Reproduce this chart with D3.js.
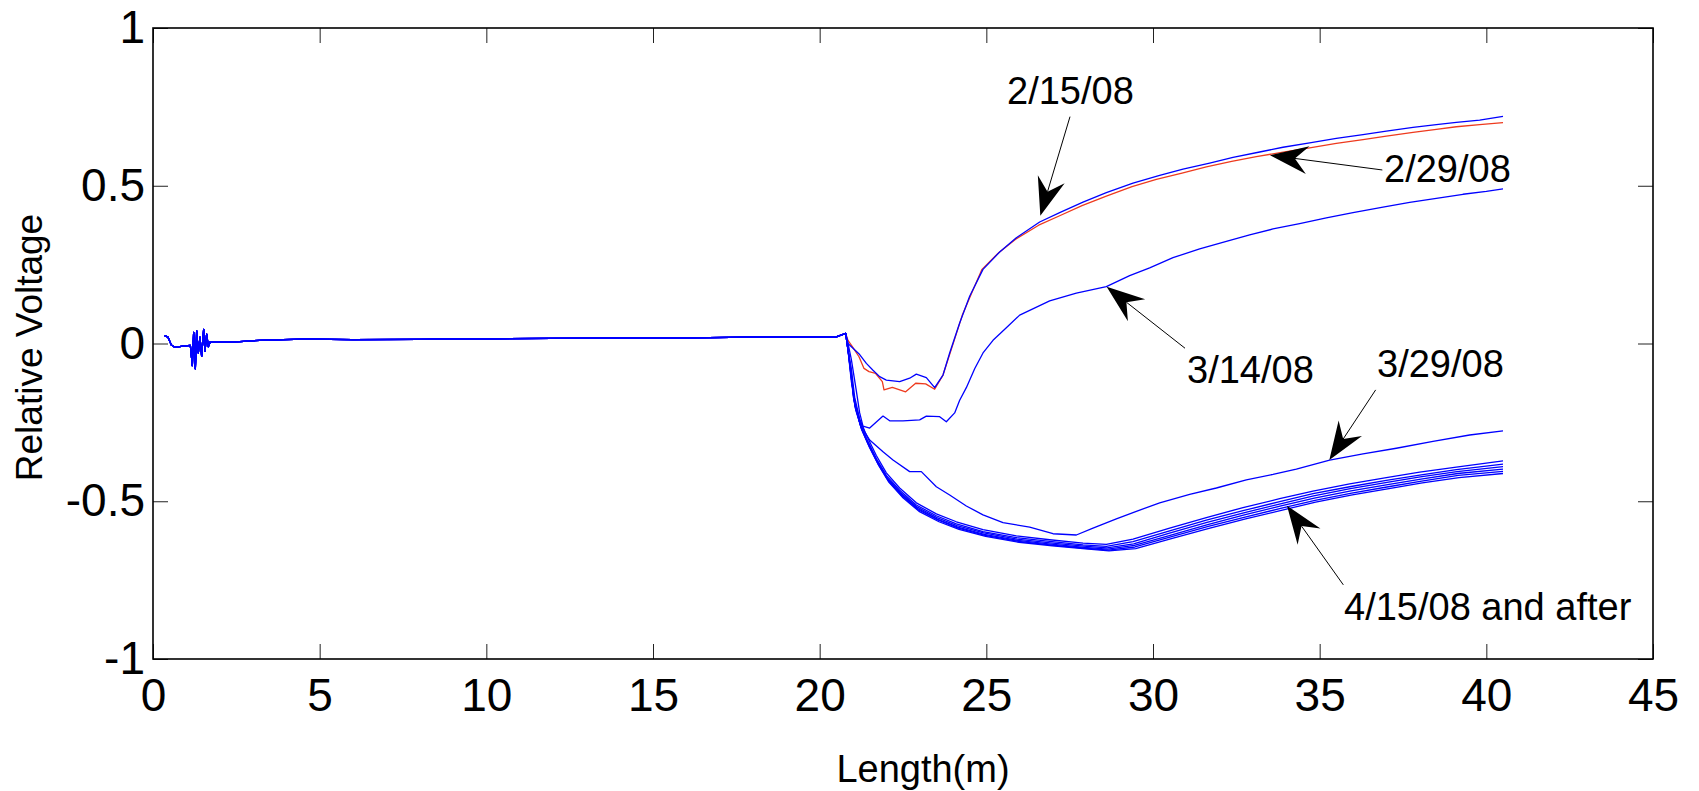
<!DOCTYPE html>
<html>
<head>
<meta charset="utf-8">
<script src="https://cdn.jsdelivr.net/npm/d3@7"></script>
<style>
  body { margin: 0; background: #fff; }
  svg { display: block; }
  text { font-family: Arial, "Liberation Sans", Helvetica, sans-serif; fill: #000; }
</style>
</head>
<body>
<svg id="chart" width="1699" height="791"></svg>
<script>
// ---- axis ticks ----
const xTicks = [0, 5, 10, 15, 20, 25, 30, 35, 40, 45];
const yTicks = [-1, -0.5, 0, 0.5, 1];
const yTickLabels = ["-1", "-0.5", "0", "0.5", "1"];
const xLabel = "Length(m)";
const yLabel = "Relative Voltage";

// ---- shared flat section of every trace (cable start up to the splice) ----
const baseLength = [0.35, 0.45, 0.55, 0.65, 0.9, 1.12, 1.18, 1.22, 1.27, 1.31, 1.36, 1.41, 1.46, 1.52, 1.56, 1.61, 1.66, 1.72, 2.0, 2.6, 3.2, 3.9, 4.6, 6, 8, 10, 12, 14, 16, 18, 20, 20.5, 20.78];
const baseVoltage = [0.025, 0.02, -0.005, -0.012, -0.008, -0.006, -0.07, 0.035, -0.08, 0.04, -0.03, 0.02, -0.04, 0.045, -0.025, 0.03, -0.01, 0.006, 0.004, 0.006, 0.01, 0.012, 0.014, 0.012, 0.013, 0.015, 0.016, 0.017, 0.018, 0.02, 0.022, 0.021, 0.032];

// ---- per-date traces after the splice: [length (m), relative voltage] ----
const trace0215 = [[20.85,0.0],[21.0,-0.015],[21.2,-0.035],[21.4,-0.063],[21.6,-0.085],[21.8,-0.105],[22.0,-0.116],[22.4,-0.121],[22.7,-0.11],[22.9,-0.097],[23.2,-0.108],[23.45,-0.14],[23.7,-0.1],[23.9,-0.03],[24.2,0.065],[24.5,0.15],[24.9,0.235],[25.4,0.29],[25.9,0.335],[26.6,0.385],[27.2,0.415],[27.9,0.448],[28.6,0.478],[29.4,0.508],[30.2,0.533],[30.9,0.553],[31.7,0.572],[32.4,0.59],[33.2,0.607],[33.9,0.622],[34.7,0.636],[35.5,0.65],[36.3,0.662],[37.0,0.673],[37.8,0.685],[38.5,0.694],[39.1,0.701],[39.8,0.708],[40.5,0.72]];
const trace0229 = [[20.85,0.01],[20.98,-0.01],[21.18,-0.042],[21.33,-0.079],[21.48,-0.089],[21.68,-0.095],[21.88,-0.121],[21.93,-0.147],[22.18,-0.139],[22.58,-0.153],[22.88,-0.126],[23.18,-0.128],[23.45,-0.145],[23.7,-0.1],[23.93,-0.025],[24.28,0.09],[24.58,0.165],[24.87,0.235],[25.37,0.288],[25.87,0.33],[26.57,0.375],[27.2,0.405],[27.87,0.437],[28.6,0.467],[29.37,0.497],[30.1,0.52],[30.87,0.54],[31.6,0.56],[32.36,0.577],[33.1,0.592],[33.86,0.606],[34.7,0.62],[35.5,0.634],[36.3,0.646],[37.0,0.657],[37.8,0.669],[38.5,0.679],[39.1,0.687],[39.8,0.694],[40.5,0.70]];
const trace0314 = [[20.85,0.0],[20.95,-0.05],[21.1,-0.15],[21.2,-0.22],[21.3,-0.262],[21.5,-0.268],[21.9,-0.23],[22.1,-0.245],[22.5,-0.245],[23.0,-0.242],[23.2,-0.23],[23.6,-0.232],[23.8,-0.248],[24.05,-0.22],[24.2,-0.18],[24.4,-0.14],[24.65,-0.08],[24.9,-0.03],[25.2,0.01],[25.6,0.05],[26.0,0.09],[26.9,0.135],[27.7,0.16],[28.6,0.18],[29.3,0.215],[29.9,0.24],[30.6,0.272],[31.4,0.3],[32.2,0.324],[32.9,0.344],[33.6,0.363],[34.4,0.38],[35.2,0.398],[36.0,0.415],[36.9,0.432],[37.7,0.447],[38.5,0.46],[39.3,0.473],[40.0,0.482],[40.5,0.49]];
const trace0329 = [[20.85,-0.02],[20.95,-0.08],[21.05,-0.17],[21.2,-0.24],[21.35,-0.28],[21.5,-0.306],[21.9,-0.343],[22.2,-0.369],[22.7,-0.406],[23.05,-0.406],[23.5,-0.454],[23.9,-0.48],[24.4,-0.515],[24.9,-0.543],[25.5,-0.568],[26.3,-0.582],[27.0,-0.603],[27.7,-0.607],[28.2,-0.585],[28.9,-0.556],[29.5,-0.532],[30.2,-0.505],[31.1,-0.478],[31.9,-0.458],[32.8,-0.432],[33.6,-0.415],[34.3,-0.398],[35.3,-0.37],[36.3,-0.35],[37.3,-0.332],[38.4,-0.31],[39.5,-0.29],[40.5,-0.277]];
const trace0415 = [[20.85,-0.02],[20.95,-0.09],[21.01,-0.17],[21.2,-0.24],[21.4,-0.29],[21.7,-0.355],[22.0,-0.41],[22.4,-0.458],[22.9,-0.505],[23.5,-0.54],[24.1,-0.565],[24.9,-0.59],[25.9,-0.61],[26.9,-0.622],[27.9,-0.633],[28.6,-0.637],[29.4,-0.62],[30.5,-0.585],[31.6,-0.552],[32.7,-0.52],[33.8,-0.492],[34.8,-0.468],[35.9,-0.445],[37.0,-0.425],[38.0,-0.408],[39.1,-0.392],[40.5,-0.372]];
const trace0430 = [[20.85,-0.02],[20.95,-0.1],[21.03,-0.18],[21.2,-0.25],[21.4,-0.3],[21.7,-0.365],[22.0,-0.418],[22.4,-0.465],[22.9,-0.512],[23.5,-0.546],[24.1,-0.572],[24.9,-0.596],[25.9,-0.615],[26.9,-0.627],[27.9,-0.638],[28.6,-0.643],[29.4,-0.628],[30.5,-0.594],[31.6,-0.56],[32.7,-0.53],[33.8,-0.501],[34.8,-0.476],[35.9,-0.454],[37.0,-0.434],[38.0,-0.417],[39.1,-0.4],[40.5,-0.382]];
const trace0515 = [[20.85,-0.02],[20.95,-0.1],[21.05,-0.19],[21.22,-0.258],[21.42,-0.308],[21.72,-0.372],[22.02,-0.425],[22.42,-0.472],[22.92,-0.518],[23.52,-0.552],[24.12,-0.577],[24.92,-0.6],[25.92,-0.62],[26.92,-0.632],[27.92,-0.642],[28.62,-0.648],[29.42,-0.635],[30.52,-0.6],[31.62,-0.567],[32.72,-0.537],[33.82,-0.508],[34.82,-0.483],[35.92,-0.46],[37.02,-0.44],[38.02,-0.423],[39.12,-0.406],[40.5,-0.39]];
const trace0601 = [[20.85,-0.02],[20.95,-0.11],[21.06,-0.2],[21.24,-0.265],[21.44,-0.314],[21.74,-0.378],[22.04,-0.43],[22.44,-0.477],[22.94,-0.523],[23.54,-0.557],[24.14,-0.582],[24.94,-0.605],[25.94,-0.624],[26.94,-0.636],[27.94,-0.646],[28.64,-0.652],[29.44,-0.64],[30.54,-0.607],[31.64,-0.574],[32.74,-0.543],[33.84,-0.515],[34.84,-0.49],[35.94,-0.467],[37.04,-0.447],[38.04,-0.43],[39.14,-0.412],[40.5,-0.398]];
const trace0615 = [[20.85,-0.02],[20.95,-0.11],[21.07,-0.2],[21.25,-0.27],[21.46,-0.32],[21.76,-0.383],[22.06,-0.435],[22.46,-0.482],[22.96,-0.527],[23.56,-0.56],[24.16,-0.585],[24.96,-0.608],[25.96,-0.627],[26.96,-0.639],[27.96,-0.649],[28.66,-0.655],[29.46,-0.645],[30.56,-0.612],[31.66,-0.58],[32.76,-0.55],[33.86,-0.522],[34.86,-0.497],[35.96,-0.474],[37.06,-0.454],[38.06,-0.436],[39.16,-0.418],[40.5,-0.405]];
const trace0701 = [[20.85,-0.02],[20.95,-0.12],[21.08,-0.21],[21.27,-0.275],[21.48,-0.326],[21.78,-0.388],[22.08,-0.44],[22.48,-0.487],[22.98,-0.532],[23.58,-0.565],[24.18,-0.589],[24.98,-0.611],[25.98,-0.63],[26.98,-0.641],[27.98,-0.651],[28.68,-0.657],[29.48,-0.65],[30.58,-0.618],[31.68,-0.586],[32.78,-0.556],[33.88,-0.528],[34.88,-0.503],[35.98,-0.48],[37.08,-0.46],[38.08,-0.442],[39.18,-0.425],[40.5,-0.412]];

// ---- annotations: text anchor and arrow (tail -> tip) in data units ----
const noteText = ["2/15/08", "2/29/08", "3/14/08", "3/29/08", "4/15/08 and after"];
const noteAt = [[25.62, 0.759], [36.93, 0.513], [31.02, -0.125], [36.72, -0.106], [35.73, -0.876]];
const arrowTail = [[27.51, 0.719], [36.88, 0.55], [30.96, -0.015], [36.68, -0.147], [35.71, -0.765]];
const arrowTip = [[26.62, 0.405], [33.51, 0.597], [28.61, 0.18], [35.29, -0.369], [34.02, -0.514]];

// ---- layout ----
const W = 1699, H = 791;
const plot = { left: 153, right: 1653, top: 28, bottom: 659 };
const BLUE = "#0000ff", RED = "#ee3a1e";

const svg = d3.select("#chart");
const x = d3.scaleLinear().domain([0, 45]).range([plot.left, plot.right]);
const y = d3.scaleLinear().domain([-1, 1]).range([plot.bottom, plot.top]);

// ticks on all four sides, pointing inward (boxed axes)
const tickLen = 15;
const gB = svg.append("g").attr("transform", `translate(0,${plot.bottom})`)
  .call(d3.axisBottom(x).tickValues(xTicks).tickFormat(d3.format("d"))
    .tickSizeInner(-tickLen).tickSizeOuter(0).tickPadding(19));
const gT = svg.append("g").attr("transform", `translate(0,${plot.top})`)
  .call(d3.axisTop(x).tickValues(xTicks).tickFormat("")
    .tickSizeInner(-tickLen).tickSizeOuter(0));
const gL = svg.append("g").attr("transform", `translate(${plot.left},0)`)
  .call(d3.axisLeft(y).tickValues(yTicks).tickFormat((d, i) => yTickLabels[i])
    .tickSizeInner(-tickLen).tickSizeOuter(0).tickPadding(8));
const gR = svg.append("g").attr("transform", `translate(${plot.right},0)`)
  .call(d3.axisRight(y).tickValues(yTicks).tickFormat("")
    .tickSizeInner(-tickLen).tickSizeOuter(0));

[gB, gT, gL, gR].forEach(g => {
  g.select(".domain").remove();
  g.selectAll(".tick line").attr("stroke", "#222").attr("stroke-width", 1);
  g.selectAll(".tick text").style("font-size", "46px").attr("fill", "#000")
    .style("font-family", 'Arial, "Liberation Sans", Helvetica, sans-serif');
});

// traces
const line = d3.line().x(d => x(d[0])).y(d => y(d[1]));
const base = baseLength.map((v, i) => [v, baseVoltage[i]]);
const traces = [
  { pts: trace0229, color: RED },
  { pts: trace0415, color: BLUE },
  { pts: trace0430, color: BLUE },
  { pts: trace0515, color: BLUE },
  { pts: trace0601, color: BLUE },
  { pts: trace0615, color: BLUE },
  { pts: trace0701, color: BLUE },
  { pts: trace0329, color: BLUE },
  { pts: trace0314, color: BLUE },
  { pts: trace0215, color: BLUE }
];
svg.append("g").selectAll("path").data(traces).join("path")
  .attr("d", d => line(base.concat(d.pts)))
  .attr("fill", "none")
  .attr("stroke", d => d.color)
  .attr("stroke-width", 1.3)
  .attr("stroke-linejoin", "round");

// plot box
svg.append("rect")
  .attr("x", plot.left).attr("y", plot.top)
  .attr("width", plot.right - plot.left).attr("height", plot.bottom - plot.top)
  .attr("fill", "none").attr("stroke", "#000").attr("stroke-width", 1.6);

// annotation arrows
const headLen = 38, headW = 28, notch = 0.66;
const ann = svg.append("g");
arrowTip.forEach((tp, i) => {
  const tx = x(tp[0]), ty = y(tp[1]);
  const sx = x(arrowTail[i][0]), sy = y(arrowTail[i][1]);
  const len = Math.hypot(sx - tx, sy - ty);
  const ux = (sx - tx) / len, uy = (sy - ty) / len;
  const nx = -uy, ny = ux;
  const bx = tx + ux * headLen, by = ty + uy * headLen;
  const mx = tx + ux * headLen * notch, my = ty + uy * headLen * notch;
  ann.append("line")
    .attr("x1", sx).attr("y1", sy).attr("x2", mx).attr("y2", my)
    .attr("stroke", "#000").attr("stroke-width", 1);
  ann.append("path")
    .attr("d", `M${tx},${ty}L${bx + nx * headW / 2},${by + ny * headW / 2}L${mx},${my}L${bx - nx * headW / 2},${by - ny * headW / 2}Z`)
    .attr("fill", "#000");
});
ann.selectAll("text.note").data(noteText).join("text")
  .attr("class", "note")
  .attr("x", (d, i) => x(noteAt[i][0]))
  .attr("y", (d, i) => y(noteAt[i][1]))
  .style("font-size", "38px")
  .text(d => d);

// axis titles
svg.append("text")
  .attr("x", (plot.left + plot.right) / 2 + 20).attr("y", 782)
  .attr("text-anchor", "middle")
  .style("font-size", "38px")
  .text(xLabel);
svg.append("text")
  .attr("transform", `translate(42,${(plot.top + plot.bottom) / 2 + 4}) rotate(-90)`)
  .attr("text-anchor", "middle")
  .style("font-size", "37px")
  .text(yLabel);
</script>
</body>
</html>
